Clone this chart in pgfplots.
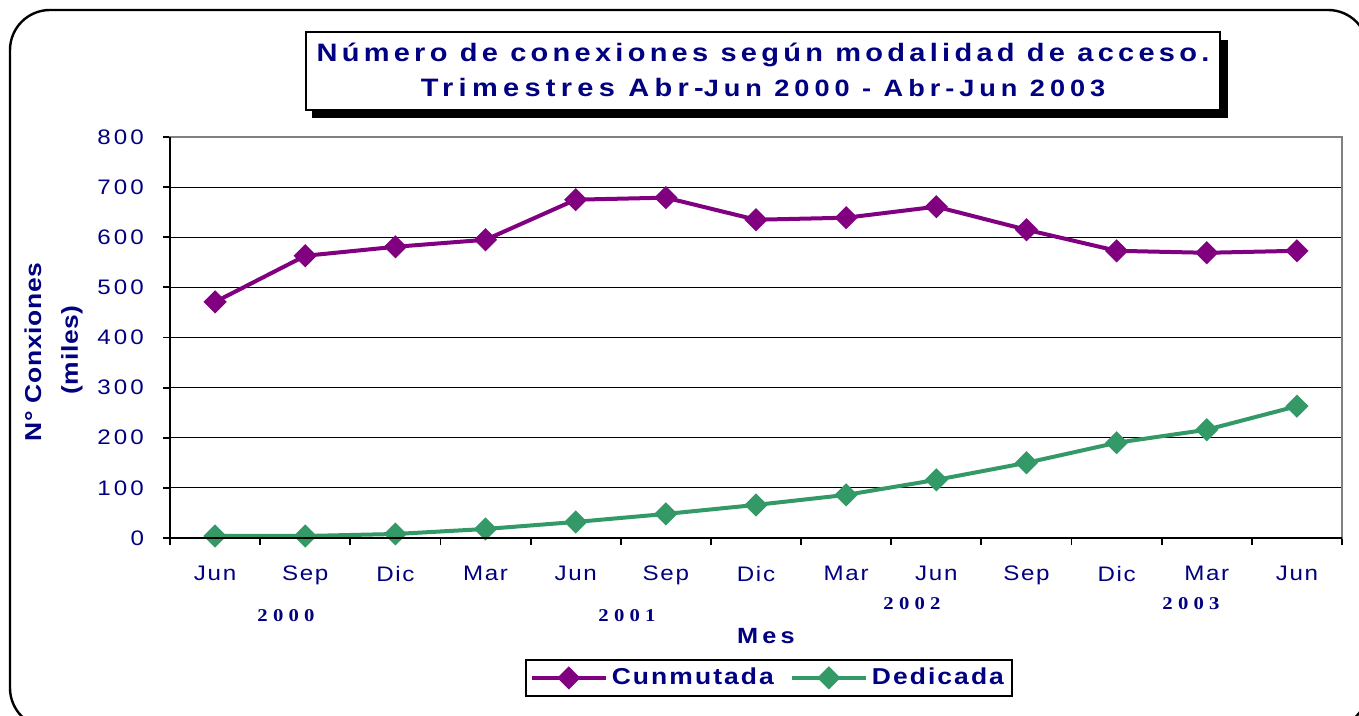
\documentclass[border=0pt]{standalone}
\usepackage{fontspec}
\setmainfont{Liberation Sans}
\newfontfamily\spX[LetterSpace=8,FakeStretch=1.15]{Liberation Sans}
\newfontfamily\spY[LetterSpace=15,FakeStretch=1.15]{Liberation Sans}
\newfontfamily\spT[LetterSpace=17,FakeStretch=1.15]{Liberation Sans}
\newfontfamily\spU[LetterSpace=21,FakeStretch=1.15]{Liberation Sans}
\newfontfamily\spL[LetterSpace=9,FakeStretch=1.15]{Liberation Sans}
\newfontfamily\spC[LetterSpace=19,FakeStretch=1.15]{Liberation Sans}
\newfontfamily\yrs[LetterSpace=29,FakeStretch=1.15]{Liberation Serif}
\newfontfamily\ylab[LetterSpace=3,FakeStretch=1.15]{Liberation Sans}
\usepackage{pgfplots}
\pgfplotsset{compat=1.18}
\definecolor{navytxt}{RGB}{0,0,128}
\definecolor{cunm}{RGB}{128,0,128}
\definecolor{dedi}{RGB}{51,153,102}

\begin{document}
\begin{tikzpicture}
\begin{scope}[x=0.5pt,y=-0.5pt]
\useasboundingbox (0,0) rectangle (1359,716);
\begin{scope}
\clip (0,0) rectangle (1359,716);
\draw[line width=1.2pt, rounded corners=20pt] (10,10) rectangle (1368,728);
\end{scope}

% title box with shadow
\fill[black] (312,40) rectangle (1228,118);
\draw[fill=white, line width=1pt] (306,32) rectangle (1220,110);
\node[navytxt, font=\spT\bfseries\fontsize{12.6}{15}\selectfont] at (763,55) {Número de conexiones según modalidad de acceso.};
\node[navytxt, font=\spU\bfseries\fontsize{12.6}{15}\selectfont] at (763,88) {Trimestres Abr-{\fontsize{11.8}{15}\selectfont Jun 2000 - Abr-Jun 2003}};

% y label
\node[navytxt, rotate=90, font=\ylab\bfseries\fontsize{11.5}{14}\selectfont] at (33,352) {N° Conxiones};
\node[navytxt, rotate=90, font=\ylab\bfseries\fontsize{11.5}{14}\selectfont] at (72,350) {(miles)};

% years and x label
\node[navytxt, font=\yrs\bfseries\fontsize{9}{10}\selectfont] at (286,616) {2000};
\node[navytxt, font=\yrs\bfseries\fontsize{9}{10}\selectfont] at (627,616) {2001};
\node[navytxt, font=\yrs\bfseries\fontsize{9}{10}\selectfont] at (912,604) {2002};
\node[navytxt, font=\yrs\bfseries\fontsize{9}{10}\selectfont] at (1191,604) {2003};
\node[navytxt, font=\spC\bfseries\fontsize{11}{12}\selectfont] at (766,636) {Mes};

\coordinate (ax) at (170,538);
\end{scope}

\begin{axis}[
    at={(ax)}, anchor=south west,
    scale only axis, width=586pt, height=200.5pt,
    xmin=-0.5, xmax=12.5, ymin=0, ymax=800,
    ytick={0,100,...,800},
    xtick={-0.5,0.5,...,12.5}, xticklabels={},
    xtick pos=bottom, ytick pos=left,
    extra x ticks={0,1,...,12},
    extra x tick labels={Jun,Sep,Dic,Mar,Jun,Sep,Dic,Mar,Jun,Sep,Dic,Mar,Jun},
    extra x tick style={major tick length=0pt, grid=none,
        xticklabel style={yshift=-10.5pt}},
    tick align=outside, major tick length=3.5pt,
    tick style={black, line width=0.9pt},
    ymajorgrids, grid style={black, line width=0.6pt},
    axis line style={gray, line width=1pt},
    /pgf/number format/assume math mode=true,
    ticklabel style={navytxt},
    xticklabel style={font=\spX\fontsize{10.5}{12}\selectfont},
    yticklabel style={font=\spY\fontsize{10.5}{12}\selectfont, xshift=-6pt},
    legend columns=2,
    legend style={at={(0.511,-0.349)}, anchor=center, draw=black, line width=1.2pt,
        font=\spL\bfseries\fontsize{11.5}{13}\selectfont, text=navytxt,
        inner sep=2pt,
        /tikz/every even column/.append style={column sep=6pt}},
    legend image code/.code={\draw[mark repeat=2, mark phase=2, #1] plot coordinates {(0pt,0pt) (18.5pt,0pt) (37pt,0pt)};},
    after end axis/.code={\draw[black, line width=1.1pt] (rel axis cs:0,1) -- (rel axis cs:0,0) -- (rel axis cs:1,0);},
]
\addplot[cunm, line width=2pt, mark=square*, mark size=3.1pt, mark options={rotate=45, solid}]
coordinates {(0,471) (1,563) (2,581) (3,595) (4,675) (5,679) (6,635) (7,639) (8,661) (9,615) (10,573) (11,569) (12,573)};
\addlegendentry{Cunmutada}
\addplot[dedi, line width=2pt, mark=square*, mark size=3.1pt, mark options={rotate=45, solid}]
coordinates {(0,4) (1,4) (2,8) (3,18) (4,32) (5,48) (6,66) (7,86) (8,116) (9,150) (10,190) (11,216) (12,263)};
\addlegendentry{Dedicada}
\end{axis}
\end{tikzpicture}
\end{document}
